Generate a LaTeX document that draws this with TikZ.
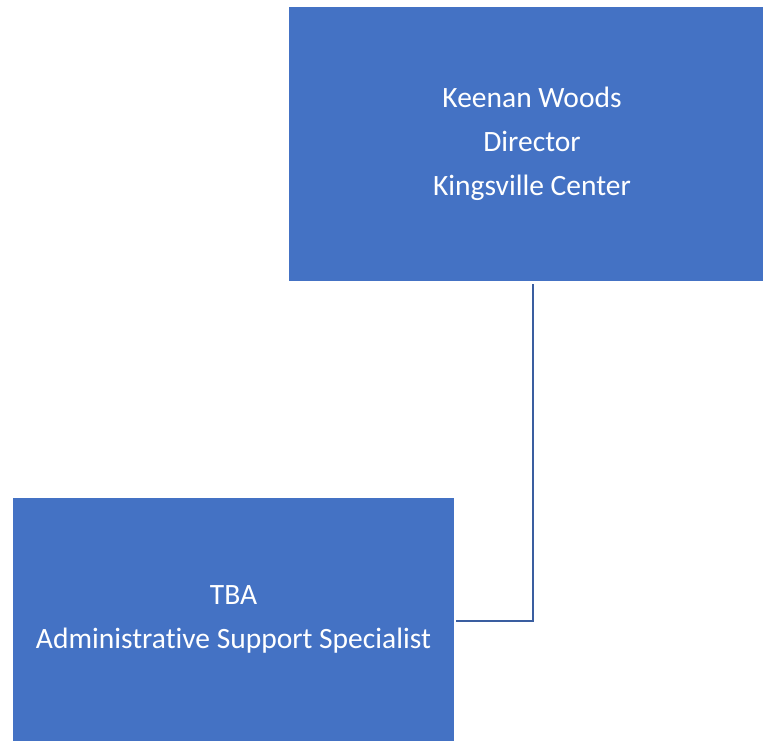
\documentclass[tikz,border=0pt]{standalone}
\usepackage{fontspec}
\setmainfont{Carlito}[RawFeature=-liga]
\definecolor{boxblue}{HTML}{4472C4}
\definecolor{lineblue}{HTML}{3A5EA0}
\tikzset{
  orgbox/.style={fill=boxblue,draw=none,text=white,align=center,inner sep=0pt,
    font=\fontsize{29.5}{44}\selectfont},
  orgline/.style={draw=lineblue,line width=2.5pt}
}
\begin{document}
\begin{tikzpicture}[x=1pt,y=-1pt]
       \useasboundingbox (0,0) rectangle (763,741);
       \node[orgbox,minimum width=474pt,minimum height=274pt] (director) at (526,144)
         {\hspace*{12pt}Keenan Woods\\\hspace*{12pt}Director\\\hspace*{12pt}Kingsville Center};
       \node[orgbox,minimum width=441pt,minimum height=243pt] (support) at (233.5,619.5)
         {TBA\\Administrative Support Specialist};
       \coordinate (bend) at (533,621);
       \draw[orgline] ([xshift=7pt,yshift=-3pt]director.south) -- (bend)
         -- ([xshift=2pt,yshift=-1.5pt]support.east);
     \end{tikzpicture}
\end{document}
